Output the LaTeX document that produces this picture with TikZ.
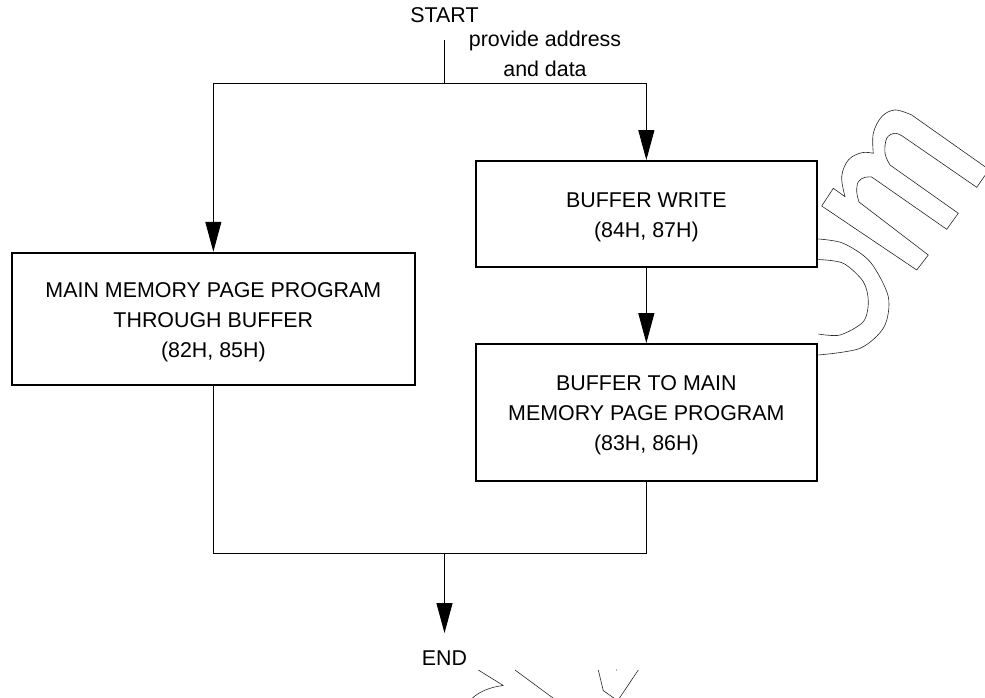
\documentclass[tikz,border=0pt]{standalone}
\usepackage{fontspec}
\setmainfont{Liberation Sans}
\usetikzlibrary{arrows.meta}
\begin{document}
\begin{tikzpicture}[x=1pt,y=-1pt,
  box/.style={draw, line width=1.8pt, fill=white, inner sep=0pt},
  txt/.style={font=\fontsize{21.4}{30}\selectfont, align=center, inner sep=0pt},
  term/.style={txt, inner ysep=17pt, anchor=base},
  conn/.style={line width=1pt},
  arr/.style={conn, -{Triangle[length=30pt,width=16pt]}},
  wm/.style={line width=0.6pt, black!85, line join=round}]
\useasboundingbox (0,0) rectangle (985,698);
% watermark remnants
\draw[wm] (821.7,206) -- (833.3,188.3) -- (845,196.7)
  -- plot[smooth, tension=0.6] coordinates {(845,196.7) (841.7,176.7) (848.3,160) (861.7,152.7) (873.3,153.3)}
  -- plot[smooth, tension=0.6] coordinates {(873.3,153.3) (873.3,133.3) (881.7,116.7) (895,110) (911.7,115)}
  -- (989.1,169.6) -- (976.7,187.3) -- (903.3,136.7)
  -- plot[smooth, tension=0.6] coordinates {(903.3,136.7) (895,133.3) (886.7,138.3) (885,153.3) (890,165)}
  -- (958.3,213.3) -- (946.7,229.3) -- (871.7,177)
  -- plot[smooth, tension=0.6] coordinates {(871.7,177) (865,177.3) (858.3,181.7) (856.7,191.7) (859,202)}
  -- (928.3,255) -- (916.7,270) -- cycle;
\draw[wm] plot[smooth] coordinates {(818.3,239) (843.3,243.3) (870,261.7) (888.3,296.7) (884,327) (860,348.3) (818.3,355)};
\draw[wm] plot[smooth] coordinates {(818.3,259.5) (843.3,263.3) (863.3,281.7) (868.3,301.7) (863.3,321.7) (840,335) (818.3,334)};
\draw[wm] (478.3,670) -- (503.3,685.5) .. controls (490,687) and (478,692) .. (471,699.5);
\draw[wm] (515,670) -- (555,699.5);
\draw[wm] (598.3,670) -- (603.3,690.7) -- (616,699.5);
\draw[wm] (638.3,670) -- (618.5,699.5);
\fill[black!85] (616.7,670) circle (0.5);
% boxes
\node[box, minimum width=403.3pt, minimum height=132.3pt] (main) at (213.35,318.85) {};
\node[box, minimum width=340.7pt, minimum height=106pt] (bw) at (646.35,214) {};
\node[box, minimum width=340.7pt, minimum height=137pt] (b2) at (646.35,412.5) {};
\node[txt] (mainT) at (213.35,322.4) {MAIN MEMORY PAGE PROGRAM\\THROUGH BUFFER\\(82H, 85H)};
\node[txt] (bwT) at (646.35,217.4) {BUFFER WRITE\\(84H, 87H)};
\node[txt] (b2T) at (646.35,415.4) {BUFFER TO MAIN\\MEMORY PAGE PROGRAM\\(83H, 86H)};
% terminals and labels
\node[term] (start) at (444.5,23) {START};
\node[term] (endn) at (444.5,665) {END};
\node[txt, anchor=base] (lab1) at (545,47) {provide address};
\node[txt, anchor=base] (lab2) at (545,77) {and data};
\coordinate (split) at (444.5,83.5);
\coordinate (join) at (444.5,553);
% connectors
\draw[conn] (start.south) -- (split);
\draw[arr] (split) -| (main.north);
\draw[arr] (split) -| (bw.north);
\draw[arr] (bw.south) -- (b2.north);
\draw[conn] (main.south) |- (join);
\draw[conn] (b2.south) |- (join);
\draw[arr] (join) -- (endn.north);
\end{tikzpicture}
\end{document}
